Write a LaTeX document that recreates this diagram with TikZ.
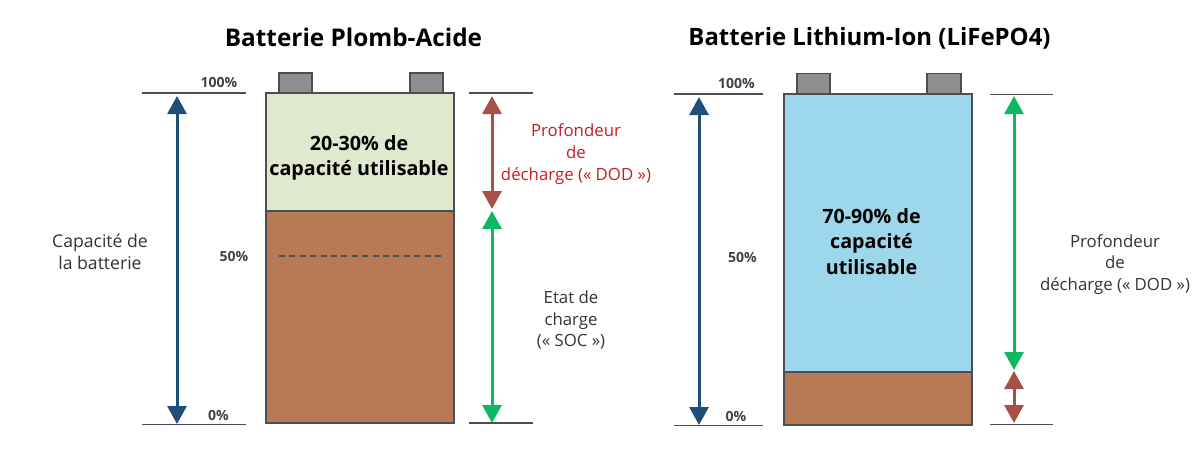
\documentclass[tikz,border=0pt]{standalone}
\usepackage{fontspec}
\setmainfont{Open Sans}
\usetikzlibrary{arrows.meta,calc}
\definecolor{edgegrey}{HTML}{4A4F55}
\definecolor{termgrey}{HTML}{8F8F8F}
\definecolor{lightgreen}{HTML}{E0E8CE}
\definecolor{brownfill}{HTML}{B77A55}
\definecolor{bluefill}{HTML}{9CD7EB}
\definecolor{navy}{HTML}{1F4E79}
\definecolor{redarrow}{HTML}{A84F48}
\definecolor{greenarrow}{HTML}{0DB863}
\definecolor{redtext}{HTML}{C41E24}
\tikzset{
  zone/.style={draw=edgegrey,line width=2pt,line join=miter},
  terminal/.style={draw=edgegrey,fill=termgrey,line width=1.8pt},
  tick/.style={draw=edgegrey,line width=1.3pt},
  dimarrow/.style={line width=3pt,{Triangle[length=18pt,width=19pt]}-{Triangle[length=18pt,width=19pt]}},
  title/.style={font=\bfseries\fontsize{24.2}{28}\selectfont,text=black,inner sep=0pt,anchor=base},
  pct/.style={font=\bfseries\fontsize{14}{16}\selectfont,text=edgegrey!85!black,inner sep=0pt,anchor=center},
  lbl/.style={font=\fontsize{16.8}{21.8}\selectfont,align=center,inner sep=0pt,anchor=center,text=black!80},
  redlbl/.style={lbl,text=redtext},
  inner/.style={font=\bfseries\fontsize{19.7}{25.4}\selectfont,align=center,inner sep=0pt,anchor=center,text=black},
}
\begin{document}
\begin{tikzpicture}[x=1pt,y=-1pt]
\useasboundingbox (0,0) rectangle (1200,469);
% --- left battery
\coordinate (ltl) at (266,93); \coordinate (ltr) at (454,93);
\coordinate (lml) at (266,211); \coordinate (lmr) at (454,211);
\coordinate (lbl) at (266,423); \coordinate (lbr) at (454,423);
\draw[terminal] (279,73) rectangle (312,93);
\draw[terminal] (410,73) rectangle (443,93);
\draw[zone,fill=lightgreen] (ltl) rectangle (lmr);
\draw[zone,fill=brownfill] (lml) rectangle (lbr);
\coordinate (dashA) at (279,256); \coordinate (dashB) at (443,256);
\draw[edgegrey,line width=1.5pt,dash pattern=on 6pt off 4.4pt] (dashA) -- (dashB);
% left ticks
\coordinate (t1a) at (142,93); \coordinate (t1b) at (246,93);
\coordinate (t2a) at (142,424.5); \coordinate (t2b) at (246,424.5);
\coordinate (t3a) at (469,93); \coordinate (t3b) at (533,93);
\coordinate (t4a) at (469,423); \coordinate (t4b) at (533,423);
\draw[tick] (t1a) -- (t1b); \draw[tick] (t2a) -- (t2b);
\draw[tick] (t3a) -- (t3b); \draw[tick] (t4a) -- (t4b);
% left arrows
\coordinate (a1t) at (177,96); \coordinate (a1b) at (177,424);
\draw[dimarrow,navy] (a1t) -- (a1b);
\coordinate (a2t) at (492,96); \coordinate (a2b) at (492,209);
\draw[dimarrow,redarrow] (a2t) -- (a2b);
\coordinate (a3t) at (492,211); \coordinate (a3b) at (492,423);
\draw[dimarrow,greenarrow] (a3t) -- (a3b);
% left text
\node[title,font=\bfseries\fontsize{24.35}{28}\selectfont] (titleL) at (353.5,46) {Batterie Plomb-Acide};
\node[pct] (p100L) at (219,82) {100\%};
\node[pct] (p50L) at (234,256) {50\%};
\node[pct] (p0L) at (218.5,415) {0\%};
\node[inner] (capL) at (359,158) {20-30\% de\\capacité utilisable};
\node[lbl,font=\fontsize{17.6}{21.8}\selectfont] (cap) at (100,252) {Capacité de\\la batterie};
\node[redlbl] (dodL) at (576,154) {Profondeur\\de\\décharge (« DOD »)};
\node[lbl] (soc) at (571,320) {Etat de\\charge\\(« SOC »)};
% --- right battery
\coordinate (rtl) at (784,94); \coordinate (rtr) at (972,94);
\coordinate (rml) at (784,372); \coordinate (rmr) at (972,372);
\coordinate (rbl) at (784,424.5); \coordinate (rbr) at (972,424.5);
\draw[terminal] (797,73.5) rectangle (830,94);
\draw[terminal] (927,73.5) rectangle (961,94);
\draw[zone,fill=bluefill] (rtl) rectangle (rmr);
\draw[zone,fill=brownfill] (rml) rectangle (rbr);
% right ticks
\coordinate (t5a) at (674,94); \coordinate (t5b) at (763,94);
\coordinate (t6a) at (674,425.5); \coordinate (t6b) at (763,425.5);
\coordinate (t7a) at (990,94.5); \coordinate (t7b) at (1053,94.5);
\coordinate (t8a) at (990,424.5); \coordinate (t8b) at (1053,424.5);
\draw[tick] (t5a) -- (t5b); \draw[tick] (t6a) -- (t6b);
\draw[tick] (t7a) -- (t7b); \draw[tick] (t8a) -- (t8b);
% right arrows
\coordinate (a4t) at (699,97); \coordinate (a4b) at (699,425);
\draw[dimarrow,navy] (a4t) -- (a4b);
\coordinate (a5t) at (1014,96); \coordinate (a5b) at (1014,370);
\draw[dimarrow,greenarrow] (a5t) -- (a5b);
\coordinate (a6t) at (1014,371); \coordinate (a6b) at (1014,423);
\draw[dimarrow,redarrow] (a6t) -- (a6b);
% right text
\node[title,font=\bfseries\fontsize{23.95}{28}\selectfont] (titleR) at (869.5,45) {Batterie Lithium-Ion (LiFePO4)};
\node[pct] (p100R) at (736.5,83) {100\%};
\node[pct] (p50R) at (742.5,257) {50\%};
\node[pct] (p0R) at (736,416.5) {0\%};
\node[inner] (capR) at (871.5,241.5) {70-90\% de\\capacité\\utilisable};
\node[lbl] (dodR) at (1115,264.5) {Profondeur\\de\\décharge (« DOD »)};
\end{tikzpicture}
\end{document}
